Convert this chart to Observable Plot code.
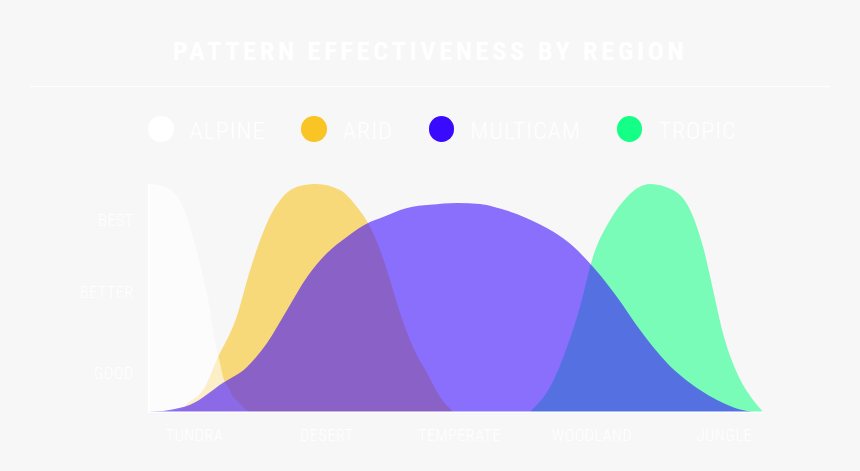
<!DOCTYPE html>
<html>
<head>
<meta charset="utf-8">
<script src="https://cdn.jsdelivr.net/npm/d3@7"></script>
<script src="https://cdn.jsdelivr.net/npm/@observablehq/plot@0.6"></script>
<style>
  html, body { margin: 0; padding: 0; }
  body { width: 860px; height: 471px; background: #f7f7f7; position: relative; overflow: hidden;
         font-family: "Roboto Condensed", "DejaVu Sans Condensed", sans-serif; color: #ffffff; }
  #title { position: absolute; left: 0; width: 860px; top: 37.5px; text-align: center; font-size: 26.5px;
           line-height: 1; font-weight: bold; letter-spacing: 3.6px; white-space: nowrap; }
  #rule { position: absolute; left: 30px; width: 800px; top: 85.5px; height: 1.5px; background: #ffffff; }
  #legend { position: absolute; left: 148px; top: 116px; height: 26px; display: flex; align-items: center; }
  .item { display: flex; align-items: center; margin-right: 36px; }
  .dot { width: 25.5px; height: 25.5px; border-radius: 50%; margin-right: 16px; }
  .lab { font-size: 24px; line-height: 1; font-weight: 300; letter-spacing: 1.0px; position: relative; top: 2px; white-space: nowrap; }
  #chart { position: absolute; left: 0; top: 160px; }
</style>
</head>
<body>
<div id="title"></div>
<div id="rule"></div>
<div id="legend"></div>
<div id="chart"></div>
<script>
// ---- data ----
const chartTitle = "PATTERN EFFECTIVENESS BY REGION";
const regions = ["TUNDRA", "DESERT", "TEMPERATE", "WOODLAND", "JUNGLE"];
const levelNames = ["GOOD", "BETTER", "BEST"];
const levelValues = [1, 3.14, 5.03];

const seriesNames = ["ALPINE", "ARID", "MULTICAM", "TROPIC"];
const seriesColors = ["#ffffff", "#f8c525", "#3a0aff", "#13ff85"];

// x in region units (0 = Tundra … 4 = Jungle), y in effectiveness (0 … 6)
const alpineX = [-0.345, -0.257, -0.158, -0.083, -0.008, 0.068, 0.121, 0.143, 0.171, 0.196, 0.219, 0.257, 0.294, 0.332, 0.408, 0.44];
const alpineY = [6.0, 5.97, 5.80, 5.40, 4.61, 3.56, 2.68, 2.15, 1.63, 1.28, 0.92, 0.65, 0.40, 0.26, 0.02, 0];

const aridX = [-0.26, -0.12, -0.045, 0.083, 0.171, 0.322, 0.423, 0.549, 0.672, 0.800, 0.926, 1.102, 1.228, 1.313, 1.404, 1.479, 1.555, 1.653, 1.758, 1.857, 1.955];
const aridY = [0, 0.04, 0.23, 0.65, 1.36, 2.50, 3.73, 4.96, 5.67, 5.95, 6.0, 5.84, 5.40, 4.97, 4.26, 3.47, 2.60, 1.70, 1.02, 0.39, 0];

const multicamX = [-0.345, -0.196, -0.030, 0.219, 0.400, 0.551, 0.702, 0.853, 1.004, 1.155, 1.328, 1.404, 1.608, 1.781, 1.985, 2.158, 2.259, 2.511, 2.712, 2.863, 2.976, 3.064, 3.192, 3.366, 3.570, 3.819, 4.068, 4.174, 4.23];
const multicamY = [0, 0.04, 0.18, 0.76, 1.18, 1.81, 2.68, 3.55, 4.18, 4.61, 5.00, 5.10, 5.37, 5.45, 5.50, 5.47, 5.40, 5.10, 4.74, 4.35, 3.95, 3.60, 3.02, 2.15, 1.28, 0.57, 0.12, 0.02, 0];

const tropicX = [2.536, 2.687, 2.815, 2.913, 3.011, 3.140, 3.268, 3.442, 3.615, 3.743, 3.842, 3.917, 3.992, 4.098, 4.219, 4.294];
const tropicY = [0, 0.65, 1.70, 2.76, 4.08, 5.05, 5.66, 6.0, 5.84, 5.32, 4.34, 3.21, 2.07, 1.02, 0.31, 0];

const xExtent = [-0.345, 4.294];
const yExtent = [0, 6];

// ---- build ----
document.getElementById("title").textContent = chartTitle;

const legend = document.getElementById("legend");
seriesNames.forEach((name, i) => {
  const item = document.createElement("div");
  item.className = "item";
  const dot = document.createElement("div");
  dot.className = "dot";
  dot.style.background = seriesColors[i];
  const lab = document.createElement("span");
  lab.className = "lab";
  lab.textContent = name;
  item.appendChild(dot);
  item.appendChild(lab);
  legend.appendChild(item);
});

const zip = (xs, ys) => xs.map((x, i) => ({x, y: ys[i]}));
const curves = {
  ALPINE: zip(alpineX, alpineY),
  ARID: zip(aridX, aridY),
  MULTICAM: zip(multicamX, multicamY),
  TROPIC: zip(tropicX, tropicY)
};
const opacity = {ALPINE: 0.58, ARID: 0.6, MULTICAM: 0.58, TROPIC: 0.56};
const drawOrder = ["ARID", "ALPINE", "TROPIC", "MULTICAM"];

const areas = drawOrder.map(name =>
  Plot.areaY(curves[name], {
    x: "x", y: "y",
    fill: seriesColors[seriesNames.indexOf(name)],
    fillOpacity: opacity[name],
    curve: "monotone-x"
  })
);

const chart = Plot.plot({
  width: 860,
  height: 300,
  marginTop: 24,
  marginBottom: 48.3,
  marginLeft: 148.3,
  marginRight: 97,
  style: {background: "transparent", fontFamily: "'Roboto Condensed', 'DejaVu Sans Condensed', sans-serif", fontSize: "16px", fontWeight: 300, letterSpacing: "0.6px", color: "#ffffff"},
  x: {domain: xExtent},
  y: {domain: yExtent},
  marks: [
    ...areas,
    Plot.ruleY([0], {stroke: "#ffffff", strokeWidth: 1.5, strokeOpacity: 0.8}),
    Plot.ruleX([xExtent[0]], {y1: yExtent[0], y2: yExtent[1], stroke: "#ffffff", strokeWidth: 2}),
    Plot.axisX({ticks: d3.range(regions.length), tickFormat: i => regions[i], tickSize: 0, tickPadding: 17, label: null, fill: "#ffffff"}),
    Plot.axisY({ticks: levelValues, tickFormat: v => levelNames[levelValues.indexOf(v)], tickSize: 0, tickPadding: 15, label: null, fill: "#ffffff"})
  ]
});
document.getElementById("chart").appendChild(chart);
</script>
</body>
</html>
